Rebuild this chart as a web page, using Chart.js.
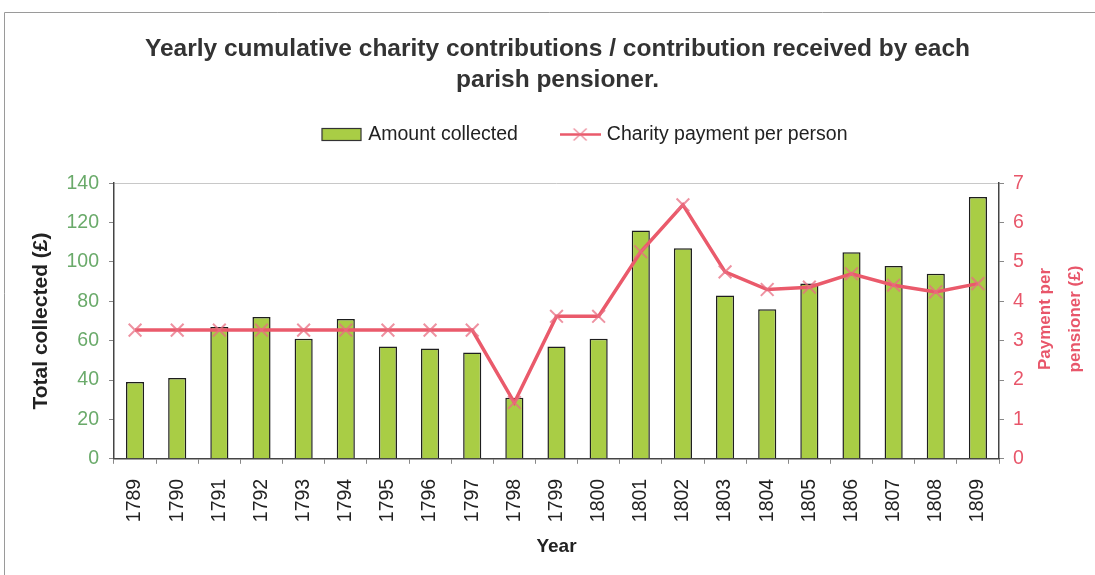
<!DOCTYPE html>
<html>
<head>
<meta charset="utf-8">
<script src="https://cdn.jsdelivr.net/npm/chart.js@4/dist/chart.umd.min.js"></script>
<style>
    html, body { margin: 0; padding: 0; background: #fff; }
    #chart { display: block; }
</style>
</head>
<body>
<canvas id="chart" width="1095" height="575"></canvas>
<script>
// Parish charity figures, 1789-1809
const years = ['1789', '1790', '1791', '1792', '1793', '1794', '1795', '1796', '1797', '1798',
    '1799', '1800', '1801', '1802', '1803', '1804', '1805', '1806', '1807', '1808', '1809'];

// Total collected each year (£)
const amountCollected = [39, 41, 67, 72, 61, 71, 57, 56, 54, 31,
    57, 61, 116, 107, 83, 76, 89, 105, 98, 94, 133];

// Charity paid to each pensioner (£)
const paymentPerPerson = [3.27, 3.27, 3.27, 3.27, 3.27, 3.27, 3.27, 3.27, 3.27, 1.43,
    3.62, 3.62, 5.26, 6.45, 4.75, 4.30, 4.36, 4.70, 4.41, 4.24, 4.45];

const titleLines = ['Yearly cumulative charity contributions / contribution received by each',
    'parish pensioner.'];
const leftTicks = [0, 20, 40, 60, 80, 100, 120, 140];
const rightTicks = [0, 1, 2, 3, 4, 5, 6, 7];

const FONT = "'Liberation Sans', Arial, Helvetica, sans-serif";
const BAR_FILL = '#a9cd45';
const BAR_EDGE = '#1e1e1e';
const LINE_COLOR = '#ea5a6b';
const MARK_COLOR = 'rgba(232, 110, 130, 0.75)';
const RED_TEXT = '#e8566a';
const GREEN_TEXT = '#6aaa6a';
const TICK_SIZE = 19.5;

// Small canvases used as legend symbols
function barSymbol() {
    const c = document.createElement('canvas');
    c.width = 41; c.height = 15;
    const g = c.getContext('2d');
    g.fillStyle = BAR_FILL;
    g.fillRect(1, 1.5, 39, 12);
    g.strokeStyle = '#333';
    g.lineWidth = 1.2;
    g.strokeRect(1, 1.5, 39, 12);
    return c;
}

function lineSymbol() {
    const c = document.createElement('canvas');
    c.width = 41; c.height = 15;
    const g = c.getContext('2d');
    g.strokeStyle = LINE_COLOR;
    g.lineWidth = 2.5;
    g.beginPath(); g.moveTo(0, 7.5); g.lineTo(41, 7.5); g.stroke();
    g.strokeStyle = MARK_COLOR;
    g.lineWidth = 1.5;
    g.beginPath();
    g.moveTo(14, 1.5); g.lineTo(27, 13.5);
    g.moveTo(27, 1.5); g.lineTo(14, 13.5);
    g.stroke();
    return c;
}

// Outer frame of the figure
const framePlugin = {
    id: 'frame',
    beforeDraw(chart) {
        const ctx = chart.ctx;
        ctx.save();
        ctx.fillStyle = '#fff';
        ctx.fillRect(0, 0, chart.width, chart.height);
        ctx.strokeStyle = '#9a9a9a';
        ctx.lineWidth = 1;
        ctx.beginPath();
        ctx.moveTo(4.5, chart.height);
        ctx.lineTo(4.5, 12.5);
        ctx.lineTo(chart.width, 12.5);
        ctx.stroke();
        ctx.restore();
    }
};

// Legend row sits a little right of the page centre
const legendShift = {
    id: 'legendShift',
    afterLayout(chart) {
        if (chart.legend) chart.legend.left += 57;
    }
};

// Right axis title reads bottom-to-top, so it is drawn here
const rightTitlePlugin = {
    id: 'rightTitle',
    afterDraw(chart) {
        const s = chart.scales.y1;
        const ctx = chart.ctx;
        const cy = (chart.chartArea.top + chart.chartArea.bottom) / 2 - 2;
        ctx.save();
        ctx.fillStyle = RED_TEXT;
        ctx.font = 'bold 17px ' + FONT;
        ctx.textAlign = 'center';
        ctx.textBaseline = 'middle';
        [['Payment per', 46], ['pensioner (\u00a3)', 76]].forEach(([txt, dx]) => {
            ctx.save();
            ctx.translate(s.left + dx, cy);
            ctx.rotate(-Math.PI / 2);
            ctx.fillText(txt, 0, 0);
            ctx.restore();
        });
        ctx.restore();
    }
};

const ctx = document.getElementById('chart').getContext('2d');

new Chart(ctx, {
    type: 'bar',
    data: {
        labels: years,
        datasets: [
            {
                type: 'bar',
                label: 'Amount collected',
                data: amountCollected,
                backgroundColor: BAR_FILL,
                borderColor: BAR_EDGE,
                borderWidth: 1.5,
                categoryPercentage: 1,
                barPercentage: 0.43,
                yAxisID: 'y',
                order: 2
            },
            {
                type: 'line',
                label: 'Charity payment per person',
                data: paymentPerPerson,
                borderColor: LINE_COLOR,
                borderWidth: 3.5,
                pointStyle: 'crossRot',
                pointRadius: 9,
                pointBorderColor: MARK_COLOR,
                pointBorderWidth: 2,
                tension: 0,
                yAxisID: 'y1',
                order: 1
            }
        ]
    },
    options: {
        responsive: false,
        animation: false,
        devicePixelRatio: 1,
        layout: {
            padding: { top: 20, left: 20, right: 0, bottom: 11 }
        },
        plugins: {
            tooltip: { enabled: false },
            title: {
                display: true,
                text: titleLines,
                color: '#333',
                font: { family: FONT, size: 24.5, weight: 'bold', lineHeight: 1.27 },
                padding: { top: 13.5, bottom: 0 }
            },
            // empty spacer between the legend and the plot
            subtitle: {
                display: true,
                text: '',
                weight: 500,
                font: { size: 1, lineHeight: 1 },
                padding: { top: 28, bottom: 0 }
            },
            legend: {
                position: 'top',
                labels: {
                    usePointStyle: true,
                    pointStyleWidth: 34,
                    padding: 29,
                    color: '#222',
                    font: { family: FONT, size: 19.5 },
                    generateLabels() {
                        return [
                            { text: 'Amount collected   ', pointStyle: barSymbol(), datasetIndex: 0, hidden: false, lineWidth: 0, fontColor: '#222' },
                            { text: 'Charity payment per person', pointStyle: lineSymbol(), datasetIndex: 1, hidden: false, lineWidth: 0, fontColor: '#222' }
                        ];
                    }
                }
            }
        },
        scales: {
            x: {
                offset: true,
                grid: {
                    display: true,
                    offset: true,
                    drawOnChartArea: false,
                    drawTicks: true,
                    tickLength: 5,
                    tickColor: '#888'
                },
                border: { display: true, color: '#444', width: 1.5 },
                ticks: {
                    minRotation: 90,
                    maxRotation: 90,
                    padding: 15,
                    color: '#222',
                    font: { family: FONT, size: TICK_SIZE }
                },
                title: {
                    display: true,
                    text: 'Year',
                    color: '#222',
                    font: { family: FONT, size: 19, weight: 'bold' },
                    padding: { top: -1.5, bottom: 5.5 }
                }
            },
            y: {
                position: 'left',
                min: 0,
                max: 140,
                afterBuildTicks(scale) {
                    scale.ticks = leftTicks.map(v => ({ value: v }));
                },
                afterFit(scale) {
                    scale.width = 94;
                },
                grid: {
                    color: c => (c.tick && c.tick.value === 140 ? '#c8c8c8' : 'rgba(0,0,0,0)'),
                    tickColor: '#888',
                    tickLength: 5
                },
                border: { display: true, color: '#444', width: 1.5 },
                ticks: {
                    padding: 10,
                    color: GREEN_TEXT,
                    font: { family: FONT, size: TICK_SIZE }
                },
                title: {
                    display: true,
                    text: 'Total collected (\u00a3)',
                    color: '#222',
                    font: { family: FONT, size: 21, weight: 'bold' },
                    padding: { top: 8.5, bottom: 0 }
                }
            },
            y1: {
                position: 'right',
                min: 0,
                max: 7,
                afterBuildTicks(scale) {
                    scale.ticks = rightTicks.map(v => ({ value: v }));
                },
                afterFit(scale) {
                    scale.width = 96;
                },
                grid: {
                    drawOnChartArea: false,
                    tickColor: '#888',
                    tickLength: 5
                },
                border: { display: true, color: '#444', width: 1.5 },
                ticks: {
                    padding: 9,
                    color: RED_TEXT,
                    font: { family: FONT, size: TICK_SIZE }
                }
            }
        }
    },
    plugins: [framePlugin, legendShift, rightTitlePlugin]
});
</script>
</body>
</html>
